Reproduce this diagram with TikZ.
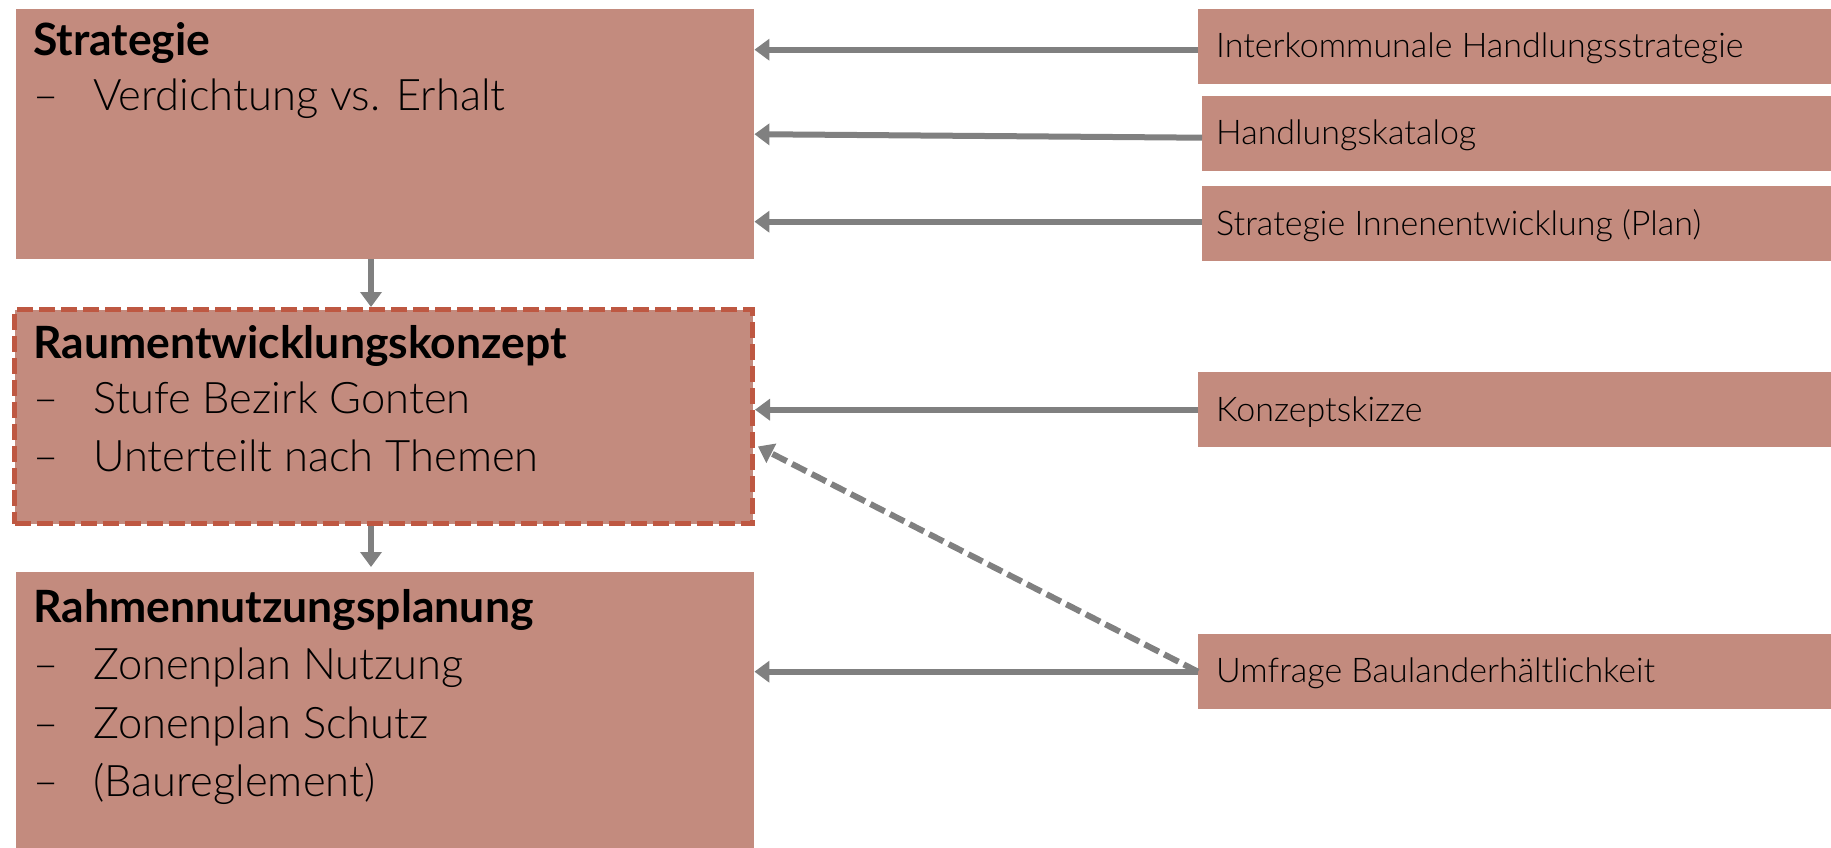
\documentclass[tikz,border=0pt]{standalone}
\usepackage{fontspec}
\setmainfont{Lato}[UprightFont=* Light, BoldFont=* Bold]
\usetikzlibrary{arrows.meta,calc}
\definecolor{boxfill}{HTML}{C38B7E}
\definecolor{dashred}{HTML}{BE5842}
\definecolor{arrowgray}{HTML}{808080}
\tikzset{
  bigbox/.style={fill=boxfill,draw=none,anchor=north west,inner sep=0pt},
  smallbox/.style={fill=boxfill,draw=none,anchor=north west,inner sep=0pt,minimum width=633pt,minimum height=75pt},
  ttl/.style={anchor=base west,inner sep=0pt,font=\fontsize{44.5}{52}\selectfont\bfseries},
  itm/.style={anchor=base west,inner sep=0pt,font=\fontsize{43.5}{52}\selectfont},
  rtxt/.style={anchor=west,inner sep=0pt,font=\fontsize{34}{40}\selectfont},
  conn/.style={draw=arrowgray,line width=6pt,-{Triangle[width=21pt,length=15pt]}},
  dconn/.style={conn,dash pattern=on 16pt off 6pt}
}
\begin{document}
\begin{tikzpicture}[x=1pt,y=-1pt]
\useasboundingbox (0,0) rectangle (1831,848);
% left boxes
\node[bigbox,minimum width=738pt,minimum height=250pt] (S) at (16,9) {};
\node[bigbox,minimum width=738pt,minimum height=214pt,draw=dashred,line width=5pt,dash pattern=on 16pt off 6pt] (RE) at (12,307) {};
\node[bigbox,minimum width=738pt,minimum height=290pt] (RNP) at (16,572) {};
% right boxes
\node[smallbox] (IK) at (1198,9) {};
\node[smallbox,minimum width=629pt] (HK) at (1202,96) {};
\node[smallbox,minimum width=629pt] (SI) at (1202,186) {};
\node[smallbox] (KS) at (1198,372) {};
\node[smallbox] (UB) at (1198,634) {};
% texts left
\node[ttl] (t1) at (33,56) {Strategie};
\node[itm] (d1) at (33,111) {–};
\node[itm] (i1) at (93,111) {Verdichtung vs. Erhalt};
\node[ttl] (t2) at (33,358) {Raumentwicklungskonzept};
\node[itm] (d2) at (33,413) {–};
\node[itm] (i2) at (93,413) {Stufe Bezirk Gonten};
\node[itm] (d3) at (33,471) {–};
\node[itm] (i3) at (93,471) {Unterteilt nach Themen};
\node[ttl] (t3) at (33,622) {Rahmennutzungsplanung};
\node[itm] (d4) at (33,679) {–};
\node[itm] (i4) at (93,679) {Zonenplan Nutzung};
\node[itm] (d5) at (33,738) {–};
\node[itm] (i5) at (93,738) {Zonenplan Schutz};
\node[itm] (d6) at (33,796) {–};
\node[itm] (i6) at (93,796) {(Baureglement)};
% texts right
\node[rtxt] (r1) at ([xshift=18pt,yshift=-2pt]IK.west) {Interkommunale Handlungsstrategie};
\node[rtxt] (r2) at ([xshift=14pt,yshift=-2pt]HK.west) {Handlungskatalog};
\node[rtxt] (r3) at ([xshift=14pt,yshift=-2pt]SI.west) {Strategie Innenentwicklung (Plan)};
\node[rtxt] (r4) at ([xshift=18pt,yshift=-2pt]KS.west) {Konzeptskizze};
\node[rtxt] (r5) at ([xshift=18pt,yshift=-2pt]UB.west) {Umfrage Baulanderhältlichkeit};
% connectors
\coordinate (ax) at (371,0);
\draw[conn] (S.south -| ax) -- (RE.north -| ax);
\draw[conn,shorten >=5pt] (RE.south -| ax) -- (RNP.north -| ax);
\draw[conn] ([yshift=-3pt]IK.west) -- ([yshift=-3pt]IK.west -| S.east);
\draw[conn] ([yshift=-4pt]HK.west) -- (S.east);
\draw[conn] ([yshift=2pt]SI.west) -- ([yshift=2pt]SI.west -| S.east);
\draw[conn] (KS.west) -- (KS.west -| RE.east);
\draw[conn] (UB.west) -- (UB.west -| RNP.east);
\draw[dconn] (UB.west) -- ($(RE.east)+(3,30)$);
\end{tikzpicture}
\end{document}
